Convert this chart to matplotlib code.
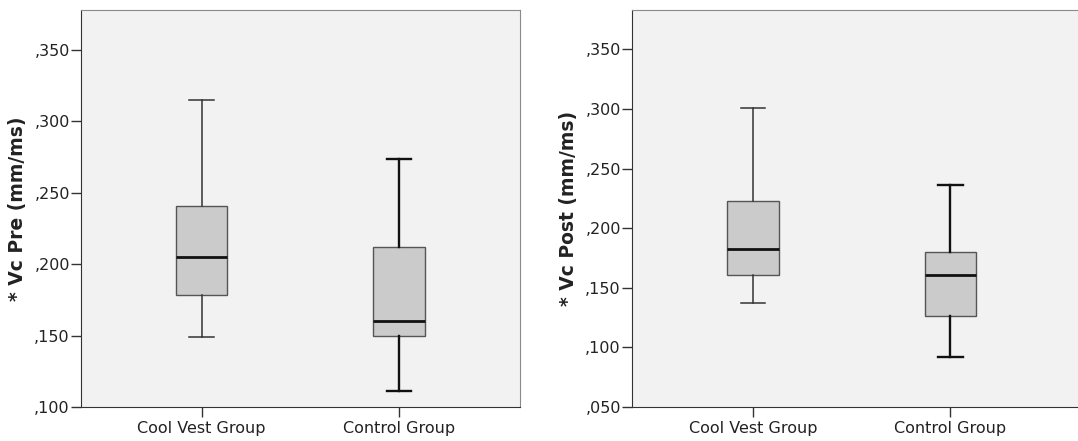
import matplotlib.pyplot as plt
from matplotlib.ticker import FuncFormatter

# Group names
groups = ['Cool Vest Group', 'Control Group']

# Box statistics: low whisker, Q1, median, Q3, high whisker
pre_low = [0.149, 0.111]
pre_q1 = [0.178, 0.1495]
pre_med = [0.2048, 0.160]
pre_q3 = [0.2405, 0.2116]
pre_high = [0.315, 0.2736]

post_low = [0.137, 0.092]
post_q1 = [0.161, 0.126]
post_med = [0.1827, 0.161]
post_q3 = [0.2226, 0.180]
post_high = [0.3005, 0.236]

pre_ticks = [0.100, 0.150, 0.200, 0.250, 0.300, 0.350]
post_ticks = [0.050, 0.100, 0.150, 0.200, 0.250, 0.300, 0.350]


def comma_fmt(v, pos):
    return f"{v:.3f}".replace("0.", ",", 1)


def make_stats(low, q1, med, q3, high):
    stats = []
    for i in range(len(groups)):
        stats.append({'whislo': low[i], 'q1': q1[i], 'med': med[i],
                      'q3': q3[i], 'whishi': high[i], 'fliers': [],
                      'label': groups[i]})
    return stats


def draw_panel(ax, stats, ticks, ylim, xlim, ylabel, right_spine=True):
    ax.set_facecolor('#f2f2f2')
    bp = ax.bxp(stats, positions=[1, 2], widths=0.26, showfliers=False,
                patch_artist=True,
                boxprops=dict(facecolor='#cbcbcb', edgecolor='#555555', linewidth=1.0),
                medianprops=dict(color='#111111', linewidth=2.0),
                whiskerprops=dict(color='#333333', linewidth=1.1),
                capprops=dict(color='#333333', linewidth=1.1))
    # Control group whiskers look a bit heavier in the original
    for line in bp['whiskers'][2:] + bp['caps'][2:]:
        line.set_linewidth(1.7)
        line.set_color('#111111')
    for cap in bp['caps']:
        x = cap.get_xdata()
        c = (x[0] + x[1]) / 2
        cap.set_xdata([c - 0.0625, c + 0.0625])

    ax.set_ylim(*ylim)
    ax.set_xlim(*xlim)
    ax.set_yticks(ticks)
    ax.yaxis.set_major_formatter(FuncFormatter(comma_fmt))
    ax.set_xticks([1, 2])
    ax.set_xticklabels(groups)
    ax.tick_params(axis='both', direction='out', length=7, width=1,
                   color='#333333', labelsize=11.5, labelcolor='#222222')
    ax.tick_params(axis='y', pad=1)
    ax.tick_params(axis='x', pad=3)
    ax.set_ylabel(ylabel, fontsize=13.5, fontweight='bold', color='#222222', labelpad=5)

    ax.spines['left'].set_color('#333333')
    ax.spines['bottom'].set_color('#333333')
    ax.spines['top'].set_color('#8a8a8a')
    ax.spines['right'].set_color('#8a8a8a')
    ax.spines['right'].set_visible(right_spine)


W, H = 1078, 441
fig = plt.figure(figsize=(W / 100, H / 100), dpi=100)

ax1 = fig.add_axes([81 / W, 1 - 407 / H, 439 / W, 397 / H])
draw_panel(ax1, make_stats(pre_low, pre_q1, pre_med, pre_q3, pre_high),
           pre_ticks, (0.100, 0.3777), (0.388, 2.613), '* Vc Pre (mm/ms)')

ax2 = fig.add_axes([632 / W, 1 - 407 / H, 450 / W, 397 / H])
draw_panel(ax2, make_stats(post_low, post_q1, post_med, post_q3, post_high),
           post_ticks, (0.050, 0.383), (0.387, 2.667), '* Vc Post (mm/ms)',
           right_spine=False)

fig.savefig('out.png', dpi=100)
